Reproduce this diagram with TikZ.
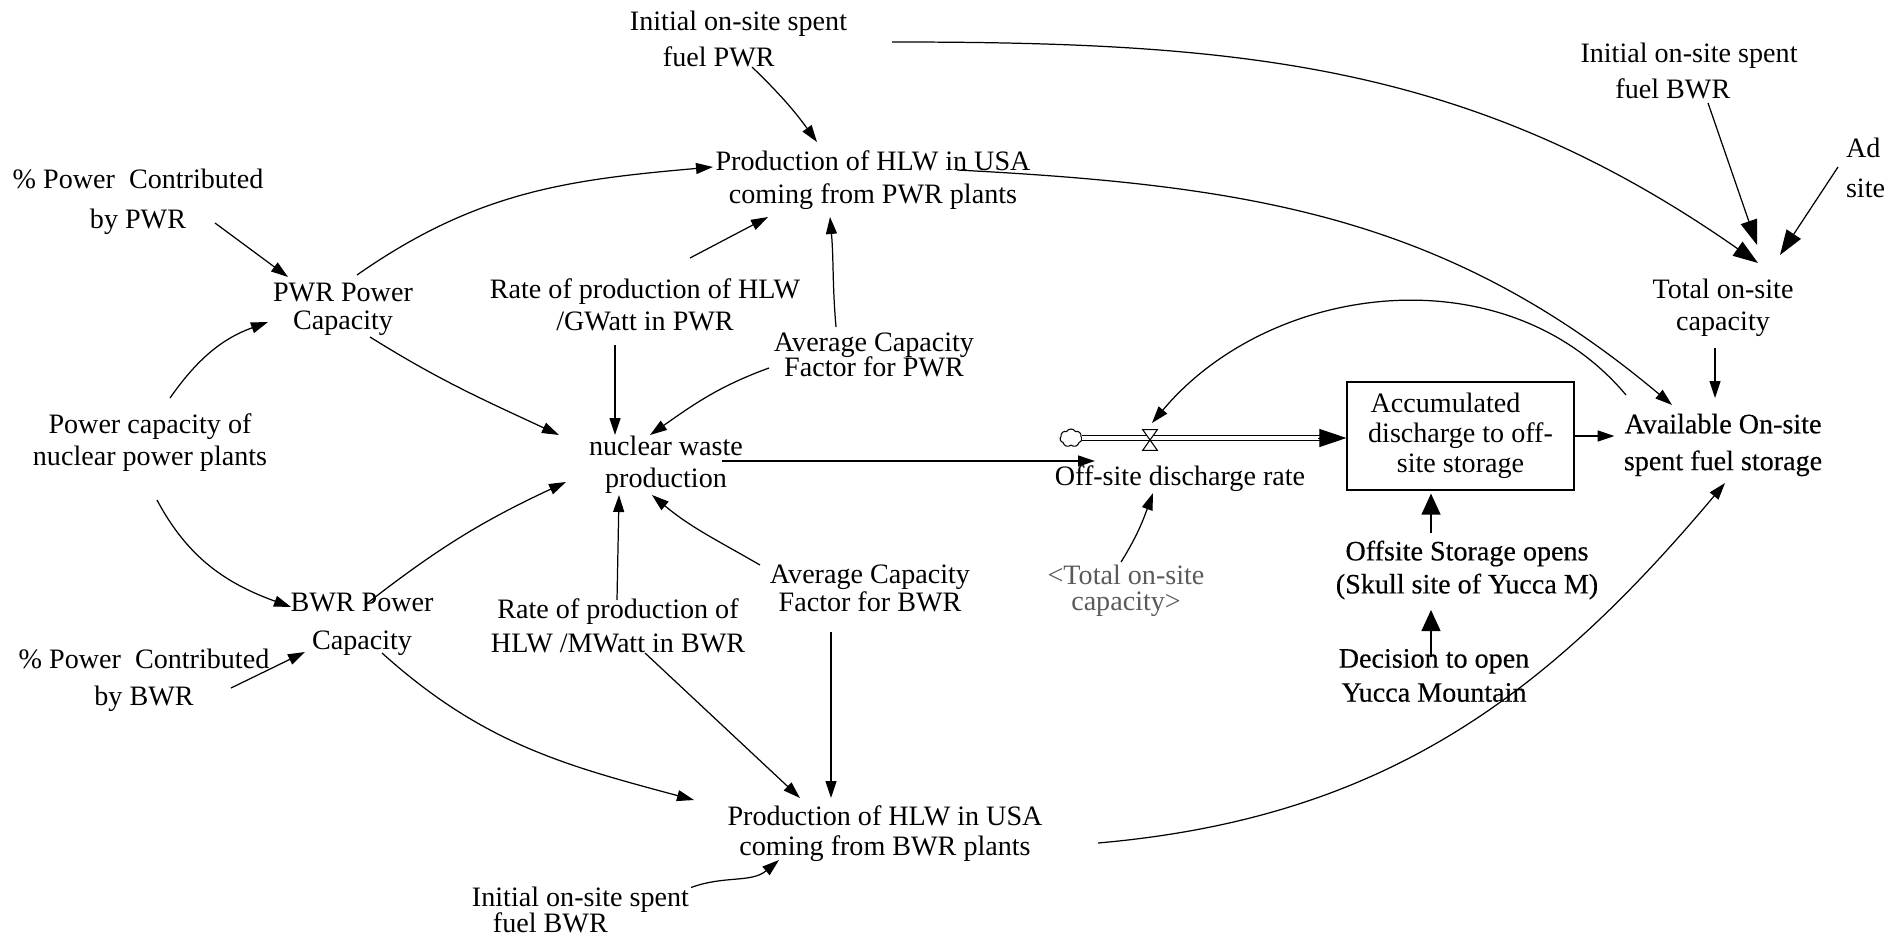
\documentclass[tikz,border=0pt]{standalone}
\usepackage{fontspec}
\setmainfont{Liberation Serif}
\newfontfamily\heavyserif[FakeBold=0.35]{Liberation Serif}
\usetikzlibrary{arrows.meta,calc,shapes.symbols}
\lineskiplimit=-100pt
\lineskip=0pt
% 16pt labels with an explicit baseline skip
\newcommand\lblfont[1]{\fontsize{16pt}{#1pt}\selectfont}
\newcommand\heavyfont[1]{\heavyserif\fontsize{16pt}{#1pt}\selectfont}
\definecolor{shadowgray}{HTML}{5A5A5A}

\begin{document}
\begin{tikzpicture}[x=0.02cm,y=-0.02cm,
  varbl/.style={align=center, inner sep=0.1cm},
  stockbox/.style={draw, line width=0.7pt, align=center, inner sep=0pt,
    minimum width=4.54cm, minimum height=2.16cm},
  conn/.style={draw, line width=0.7pt, -{Triangle[length=0.34cm,width=0.22cm]}},
  bigconn/.style={draw, line width=0.7pt, -{Triangle[length=0.5cm,width=0.34cm]}},
  midconn/.style={draw, line width=0.7pt, -{Triangle[length=0.42cm,width=0.38cm]}},
  flowpipe/.style={draw, double, double distance=0.08cm, line width=0.5pt},
  flowtip/.style={draw, line width=0.5pt, -{Triangle[length=0.54cm,width=0.36cm]}}
]
\useasboundingbox (0,0) rectangle (1902,939);

% ---------------- variables ----------------
\node[varbl, font={\lblfont{21}}, align=left] (initPWR) at (738.5,39)
  {Initial on-site spent\\\hspace*{0.66cm}fuel PWR};
\node[varbl, font={\lblfont{18.8}}] (prodPWR) at (873,180)
  {Production of HLW in USA\\coming from PWR plants};
\node[varbl, font={\lblfont{22.8}}] (pctPWR) at (138,201.5)
  {\% Power\ \ Contributed\\by PWR};
\node[varbl, font={\lblfont{15.9}}] (pwrCap) at (343,309.5) {PWR Power\\Capacity};
\node[varbl, font={\lblfont{18.2}}] (powCap) at (150,442.5)
  {Power capacity of\\nuclear power plants};
\node[varbl, font={\lblfont{18.2}}] (rateP) at (645,305)
  {Rate of production of HLW\\/GWatt in PWR};
\node[varbl, font={\lblfont{14.2}}] (avgP) at (874,355)
  {Average Capacity\\Factor for PWR};
\node[varbl, font={\lblfont{18.2}}] (nwp) at (666,464.5) {nuclear waste\\production};
\node[varbl, font={\lblfont{16}}] (avgB) at (870,588.5)
  {Average Capacity\\Factor for BWR};
\node[varbl, font={\lblfont{21.6}}] (bwrCap) at (362,624.5) {BWR Power\\Capacity};
\node[varbl, font={\lblfont{19.4}}] (rateB) at (618,625.5)
  {Rate of production of\\HLW /MWatt in BWR};
\node[varbl, font={\lblfont{21}}] (pctBWR) at (144,680)
  {\% Power\ \ Contributed\\by BWR};
\node[varbl, font={\lblfont{17.1}}] (prodBWR) at (885,833.5)
  {Production of HLW in USA\\coming from BWR plants};
\node[varbl, font={\lblfont{14.4}}, align=left] (initBWRb) at (580.5,910)
  {Initial on-site spent\\\hspace*{0.42cm}fuel BWR};
\node[varbl, font={\lblfont{20.5}}, align=left] (initBWR) at (1689,70.5)
  {Initial on-site spent\\\hspace*{0.7cm}fuel BWR};
\node[varbl, font={\lblfont{22.8}}, align=left] (adsite) at (1865.5,167.5) {Ad\\site};
\node[varbl, font={\lblfont{18.2}}] (totCap) at (1723,307.5) {Total on-site\\capacity};
\node[varbl, font={\heavyfont{21}}] (avail) at (1723,445)
  {Available On-site\\spent fuel storage};
\node[stockbox, font={\lblfont{17.1}}] (stock) at (1460.5,436)
  {Accumulated\hspace*{0.6cm}\\discharge to off-\\site storage};
\node[varbl, font={\heavyfont{18.8}}] (off) at (1467,570)
  {Offsite Storage opens\\(Skull site of Yucca M)};
\node[varbl, font={\heavyfont{19.4}}] (dec) at (1434,675.5)
  {Decision to open\\Yucca Mountain};
\node[varbl, font={\lblfont{14.8}}, text=shadowgray] (tot2) at (1126,590.5)
  {<Total on-site\\capacity>};
\node[varbl, font={\lblfont{19}}] (rate) at (1180,478.5) {Off-site discharge rate};

% ---------------- flow: source cloud, pipe, valve ----------------
\node[cloud, draw, cloud puffs=7, cloud puff arc=120, aspect=1.2,
  minimum width=0.44cm, minimum height=0.36cm, inner sep=0pt, line width=0.6pt]
  (cloud) at (1071,438) {};
\node[minimum width=0.28cm, minimum height=0.4cm, inner sep=0pt] (valve) at (1150,440) {};
\path[flowpipe, shorten >=0.5cm] (cloud.east) -- (cloud.east -| stock.west);
\path[flowtip] ($(cloud.east -| stock.west)+(-28,0)$) -- (cloud.east -| stock.west);
\draw[fill=white, line width=0.6pt] (valve.north west) -- (valve.north east)
  -- (valve.south west) -- (valve.south east) -- cycle;

% ---------------- links ----------------
\path[conn] ($(initPWR.center)+(13.5,28)$) to[out=-44,in=126] ($(prodPWR.center)+(-56,-38)$);
\path[conn] ($(pctPWR.center)+(77,21.5)$) -- ($(pwrCap.center)+(-55,-32.5)$);
\path[conn] ($(powCap.center)+(20,-44.5)$) to[out=55,in=200] ($(pwrCap.center)+(-75,12.5)$);
\path[conn] ($(pwrCap.center)+(14,-34.5)$) to[out=35,in=185] ($(prodPWR.center)+(-160,-13)$);
\path[conn] ($(pwrCap.center)+(27,27.5)$) to[out=-32,in=155] ($(nwp.center)+(-107,-29.5)$);
\path[conn] ($(powCap.center)+(7,57.5)$) to[out=-62,in=160] ($(bwrCap.center)+(-71,-17.5)$);
\path[conn] ($(pctBWR.center)+(87,8)$) -- ($(bwrCap.center)+(-57,27.5)$);
\path[conn] ($(bwrCap.center)+(3,-19.5)$) to[out=38,in=205] ($(nwp.center)+(-100,17.5)$);
\path[conn] ($(rateP.center)+(-30,40)$) -- ($(nwp.center)+(-51,-29.5)$);
\path[conn] ($(avgP.center)+(-105,13)$) to[out=200,in=35] ($(nwp.center)+(-16,-29.5)$);
\path[conn] ($(rateB.center)+(-1,-25.5)$) -- ($(nwp.center)+(-47,30.5)$);
\path[conn] ($(avgB.center)+(-110,-23.5)$) to[out=150,in=-40] ($(nwp.center)+(-14,30.5)$);
\path[conn] ($(rateP.center)+(45,-47)$) -- ($(prodPWR.center)+(-105,37)$);
\path[conn] ($(avgP.center)+(-38,-28)$) to[out=95,in=-85] ($(prodPWR.center)+(-43,37)$);
\path[bigconn] ($(initPWR.center)+(153.5,3)$) to[out=0,in=145] ($(totCap.center)+(35,-44.5)$);
\path[conn] ($(prodPWR.center)+(84,-10)$) to[out=-3,in=140] ($(avail.center)+(-51,-40)$);
\path[bigconn] ($(initBWR.center)+(19,32.5)$) -- ($(totCap.center)+(34,-62.5)$);
\path[bigconn] ($(adsite.center)+(-27.5,-0.5)$) -- ($(totCap.center)+(57,-52.5)$);
\path[conn] ($(totCap.center)+(-8,40.5)$) -- ($(avail.center)+(-8,-47)$);
\path[conn] ($(avail.center)+(-97,-50)$) to[out=130,in=50] ($(valve.center)+(2,-17)$);
\path[conn] ($(tot2.center)+(-5,-28.5)$) to[out=58,in=250] ($(rate.center)+(-27,14.5)$);
\path[conn] ($(nwp.center)+(56,-3.5)$) -- ($(rate.center)+(-85,-17.5)$);
\path[conn] (stock.east) -- ($(avail.west |- stock.east)+(-4,0)$);
\path[midconn] ($(off.center)+(-36,-37)$) -- ($(stock.south)+(-29.5,3)$);
\path[midconn] ($(dec.center)+(-3,-18.5)$) -- ($(off.center)+(-36,40)$);
\path[conn] ($(prodBWR.center)+(213,9.5)$) to[out=5,in=230] ($(avail.center)+(2,38)$);
\path[conn] ($(bwrCap.center)+(20,28.5)$) to[out=-42,in=165] ($(prodBWR.center)+(-191,-33.5)$);
\path[conn] ($(rateB.center)+(27,27.5)$) -- ($(prodBWR.center)+(-85,-35.5)$);
\path[conn] ($(avgB.center)+(-39,43.5)$) -- ($(prodBWR.center)+(-54,-35.5)$);
\path[conn] ($(initBWRb.center)+(110.5,-22.5)$) to[out=20,in=220] ($(prodBWR.center)+(-106,26.5)$);
\end{tikzpicture}
\end{document}
